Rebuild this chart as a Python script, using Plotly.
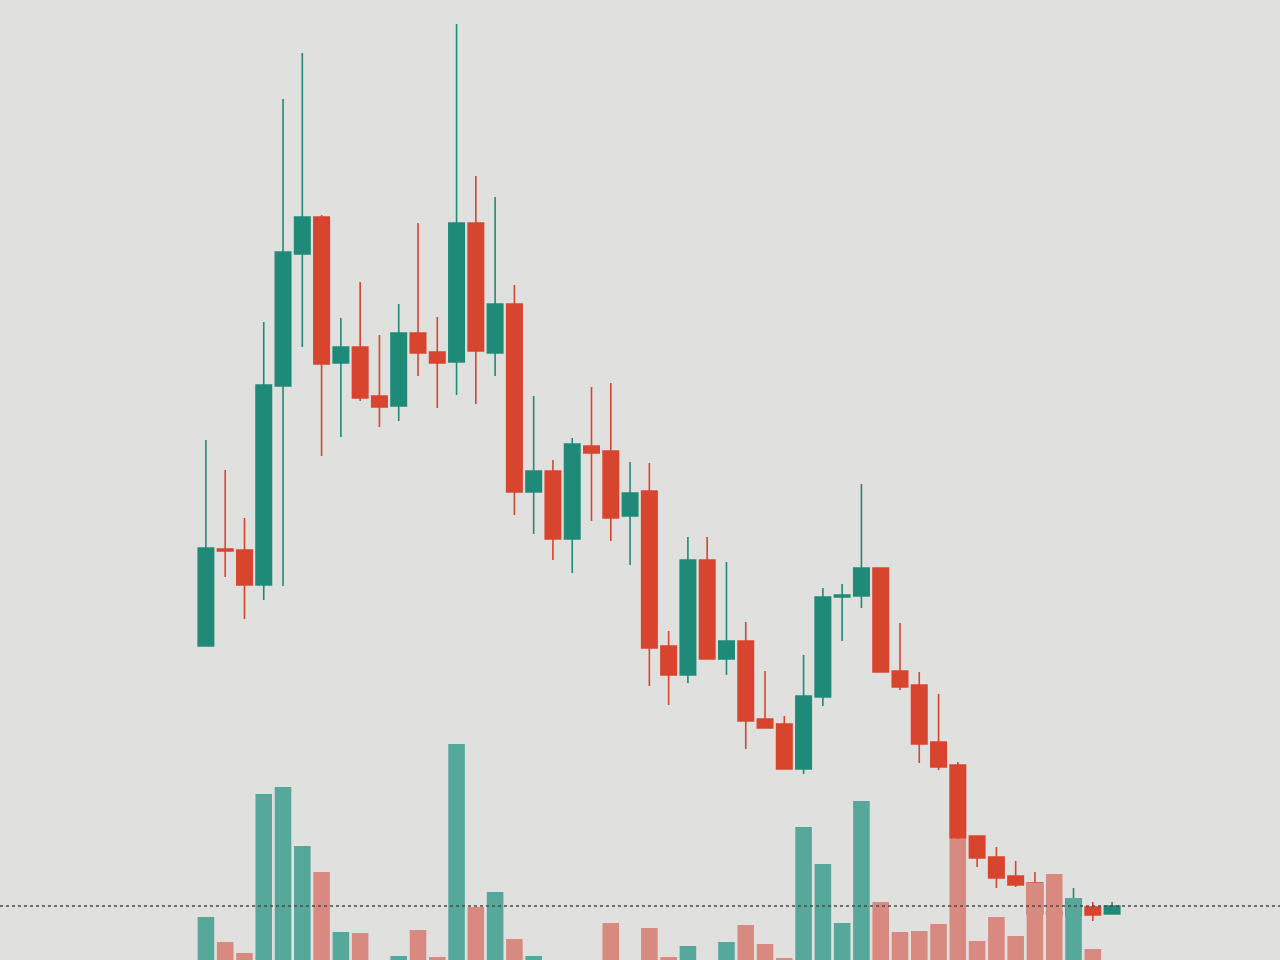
import plotly.graph_objects as go

# Candle index (no date labels are visible in the reference)
idx = list(range(48))

open_ = [314, 411, 410, 375, 574, 706, 743, 597, 613, 564, 554, 627, 608, 598, 737, 607,
         656, 468, 489, 421, 514, 509, 444, 469, 314, 285, 400, 301, 319, 241, 236, 191,
         263, 363, 364, 392, 289, 275, 218, 195, 124, 103, 84, 77, 48, 44, 53, 46]
high = [520, 490, 442, 638, 861, 907, 745, 642, 678, 625, 656, 737, 643, 936, 784, 763,
        675, 564, 500, 522, 573, 577, 498, 497, 329, 423, 423, 398, 338, 289, 244, 305,
        372, 376, 476, 392, 337, 288, 266, 198, 124, 113, 99, 88, 58, 72, 58, 58]
low = [314, 383, 341, 360, 374, 613, 504, 523, 559, 533, 539, 584, 552, 565, 556, 584,
       445, 426, 400, 387, 439, 419, 395, 274, 255, 277, 301, 285, 211, 232, 191, 186,
       254, 319, 352, 288, 270, 197, 190, 72, 93, 72, 73, 46, 35, 44, 39, 46]
close = [412, 409, 375, 575, 708, 743, 596, 613, 562, 553, 627, 607, 597, 737, 609, 656,
         468, 489, 421, 516, 507, 442, 467, 312, 285, 400, 301, 319, 239, 232, 191, 264,
         363, 365, 392, 288, 273, 216, 193, 122, 102, 82, 75, 46, 46, 61, 45, 54]
volume = [58, 33, 22, 181, 188, 129, 103, 43, 42, 10, 19, 45, 18, 231, 68, 83,
          36, 19, 8, 12, 9, 52, 11, 47, 18, 29, 10, 33, 50, 31, 17, 148,
          111, 52, 174, 73, 43, 44, 51, 136, 34, 58, 39, 92, 101, 77, 26, 12]

UP = "#1f8a78"
DOWN = "#d8452f"
VOL_UP = "#56a89b"
VOL_DOWN = "#d98a80"

vol_colors = [VOL_UP if c >= o else VOL_DOWN for o, c in zip(open_, close)]

fig = go.Figure()
fig.add_trace(go.Bar(
    x=idx, y=volume, marker=dict(color=vol_colors, line=dict(width=0)),
    width=0.86, yaxis="y2", hoverinfo="skip"))
fig.add_trace(go.Candlestick(
    x=idx, open=open_, high=high, low=low, close=close,
    increasing=dict(line=dict(color=UP, width=1.6), fillcolor=UP),
    decreasing=dict(line=dict(color=DOWN, width=1.6), fillcolor=DOWN),
    whiskerwidth=0))

fig.add_shape(type="line", xref="paper", x0=0, x1=1, yref="y", y0=close[-1], y1=close[-1],
              line=dict(color="#4a4a4a", width=1.5, dash="dot"))

BG = "#e0e0de"
fig.update_layout(
    width=1280, height=960,
    margin=dict(l=0, r=0, t=0, b=0),
    paper_bgcolor=BG, plot_bgcolor=BG,
    showlegend=False,
    boxgap=0.2,
    boxgroupgap=0,
    bargap=0.14,
    xaxis=dict(visible=False, range=[-10.68, 55.71], rangeslider=dict(visible=False)),
    yaxis=dict(visible=False, range=[0, 960]),
    yaxis2=dict(visible=False, range=[15, 975], overlaying="y"),
)

fig.write_html(
    "out.html",
    config={"displayModeBar": False},
    post_script="document.body.style.margin='0';document.body.style.overflow='hidden';"
                "document.body.style.background='" + BG + "';",
)
